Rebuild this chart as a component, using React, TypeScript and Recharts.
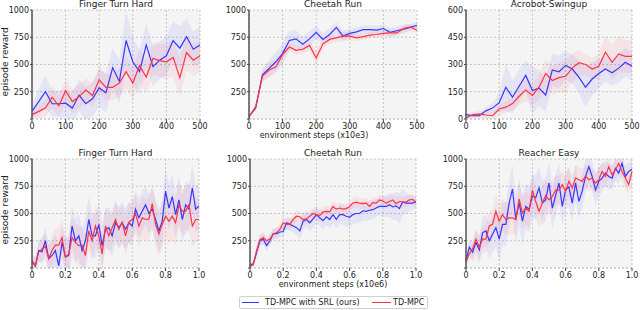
import { ComposedChart, Line, Area, XAxis, YAxis, CartesianGrid } from "recharts";

// x positions
const stepsK = [0, 20, 40, 60, 80, 100, 120, 140, 160, 180, 200, 220, 240, 260, 280, 300, 320, 340, 360, 380, 400, 420, 440, 460, 480, 500];
const stepsM = [
  0, 0.02, 0.04, 0.06, 0.08, 0.1, 0.12, 0.14, 0.16, 0.18,
  0.2, 0.22, 0.24, 0.26, 0.28, 0.3, 0.32, 0.34, 0.36, 0.38,
  0.4, 0.42, 0.44, 0.46, 0.48, 0.5, 0.52, 0.54, 0.56, 0.58,
  0.6, 0.62, 0.64, 0.66, 0.68, 0.7, 0.72, 0.74, 0.76, 0.78,
  0.8, 0.82, 0.84, 0.86, 0.88, 0.9, 0.92, 0.94, 0.96, 0.98,
  1.0,
];

const ticksK = [0, 100, 200, 300, 400, 500];
const ticksM = [0, 0.2, 0.4, 0.6, 0.8, 1.0];
const ticksReward = [0, 250, 500, 750, 1000];
const ticksAcrobot = [0, 150, 300, 450, 600];

// top row: Finger Turn Hard
const fingerA_srl = [70, 160, 250, 140, 140, 145, 100, 220, 140, 185, 285, 240, 470, 345, 720, 525, 435, 680, 480, 540, 580, 720, 650, 755, 640, 680];
const fingerA_srlSd = [60, 120, 150, 120, 120, 130, 140, 150, 150, 160, 170, 180, 180, 200, 270, 220, 200, 200, 180, 170, 180, 180, 200, 170, 160, 170];
const fingerA_mpc = [40, 70, 100, 200, 120, 260, 160, 205, 265, 215, 360, 290, 290, 330, 435, 330, 490, 385, 555, 535, 525, 565, 380, 610, 540, 580];
const fingerA_mpcSd = [40, 60, 80, 100, 100, 110, 110, 110, 110, 110, 120, 120, 120, 130, 150, 150, 150, 150, 150, 150, 160, 170, 180, 160, 150, 150];

// top row: Cheetah Run
const cheetahA_srl = [25, 100, 405, 465, 525, 600, 720, 735, 685, 735, 795, 730, 775, 840, 760, 785, 800, 820, 820, 815, 830, 795, 810, 825, 840, 860];
const cheetahA_srlSd = [10, 20, 60, 80, 90, 100, 90, 80, 70, 70, 60, 60, 60, 50, 50, 40, 40, 40, 40, 40, 40, 40, 40, 40, 30, 30];
const cheetahA_mpc = [20, 115, 395, 450, 480, 590, 660, 630, 640, 675, 560, 690, 730, 745, 760, 760, 745, 755, 770, 775, 785, 790, 790, 830, 845, 815];
const cheetahA_mpcSd = [10, 20, 50, 70, 60, 50, 40, 40, 40, 50, 70, 50, 40, 40, 40, 40, 30, 30, 30, 30, 30, 30, 30, 30, 30, 30];

// top row: Acrobot-Swingup
const acrobot_srl = [24, 18, 18, 45, 60, 90, 175, 120, 180, 240, 157, 170, 132, 270, 260, 295, 275, 230, 175, 220, 250, 275, 255, 280, 312, 290];
const acrobot_srlSd = [10, 10, 10, 20, 30, 50, 130, 90, 90, 80, 130, 100, 90, 90, 90, 80, 80, 90, 110, 90, 80, 70, 70, 80, 80, 80];
const acrobot_mpc = [5, 24, 27, 22, 18, 55, 65, 85, 125, 160, 130, 175, 250, 212, 228, 235, 280, 310, 300, 275, 290, 368, 312, 358, 345, 345];
const acrobot_mpcSd = [10, 15, 20, 20, 20, 30, 30, 40, 50, 60, 60, 70, 80, 80, 80, 90, 80, 70, 60, 60, 70, 90, 100, 100, 90, 90];

// bottom row: Finger Turn Hard
const fingerB_srl = [
  55, 25, 160, 150, 250, 85, 115, 160, 20, 235,
  100, 115, 385, 250, 295, 160, 250, 445, 295, 295,
  400, 205, 355, 370, 295, 415, 370, 415, 355, 415,
  385, 540, 460, 520, 580, 500, 540, 445, 340, 430,
  705, 550, 655, 490, 625, 445, 580, 540, 735, 540,
  570,
];
const fingerB_srlSd = [
  60, 80, 100, 110, 120, 130, 140, 150, 150, 160,
  170, 180, 190, 200, 200, 200, 210, 210, 200, 200,
  200, 200, 190, 190, 190, 190, 190, 190, 190, 190,
  180, 180, 180, 180, 180, 180, 190, 190, 200, 200,
  200, 210, 210, 210, 220, 220, 220, 220, 220, 210,
  210,
];
const fingerB_mpc = [
  70, 15, 145, 175, 200, 85, 160, 210, 210, 280,
  100, 130, 280, 235, 205, 210, 115, 340, 250, 385,
  295, 130, 385, 295, 370, 445, 355, 420, 295, 420,
  445, 500, 385, 460, 445, 450, 590, 400, 310, 400,
  475, 430, 475, 415, 580, 520, 520, 580, 385, 445,
  445,
];
const fingerB_mpcSd = [
  50, 70, 90, 110, 120, 130, 140, 150, 160, 160,
  170, 170, 180, 180, 180, 180, 180, 180, 180, 180,
  180, 180, 170, 170, 170, 170, 170, 170, 180, 180,
  180, 180, 190, 190, 190, 200, 200, 200, 200, 200,
  200, 200, 210, 210, 210, 210, 210, 210, 200, 200,
  200,
];

// bottom row: Cheetah Run
const cheetahB_srl = [
  25, 40, 145, 250, 265, 205, 250, 315, 315, 330,
  335, 415, 400, 385, 370, 340, 430, 445, 415, 450,
  490, 460, 435, 470, 445, 490, 445, 490, 490, 475,
  465, 490, 500, 500, 525, 520, 530, 535, 550, 565,
  565, 565, 580, 560, 570, 545, 605, 595, 595, 595,
  610,
];
const cheetahB_srlSd = [
  20, 30, 50, 50, 50, 50, 50, 50, 50, 50,
  50, 60, 60, 60, 70, 80, 80, 80, 80, 80,
  80, 80, 80, 80, 80, 80, 80, 90, 90, 90,
  90, 90, 90, 90, 90, 90, 90, 90, 80, 80,
  90, 100, 110, 120, 130, 140, 120, 100, 80, 60,
  50,
];
const cheetahB_mpc = [
  20, 30, 160, 260, 280, 250, 265, 310, 325, 355,
  415, 400, 400, 445, 475, 470, 445, 450, 475, 500,
  490, 480, 515, 520, 515, 565, 540, 550, 540, 545,
  565, 595, 605, 595, 590, 595, 565, 600, 595, 625,
  615, 595, 610, 625, 590, 610, 605, 605, 625, 630,
  600,
];
const cheetahB_mpcSd = [
  15, 20, 40, 50, 50, 50, 50, 50, 50, 50,
  50, 50, 50, 50, 50, 50, 50, 50, 50, 50,
  50, 50, 50, 50, 50, 50, 50, 50, 50, 50,
  50, 50, 50, 50, 50, 50, 50, 50, 50, 50,
  50, 50, 50, 50, 50, 50, 50, 50, 50, 50,
  50,
];

// bottom row: Reacher Easy
const reacher_srl = [
  70, 190, 145, 235, 165, 325, 340, 250, 310, 370,
  265, 400, 400, 595, 725, 445, 600, 430, 565, 540,
  660, 645, 735, 595, 625, 780, 550, 665, 780, 565,
  715, 745, 595, 780, 610, 705, 840, 930, 840, 715,
  795, 825, 870, 840, 825, 915, 870, 960, 840, 885,
  905,
];
const reacher_srlSd = [
  50, 70, 90, 110, 130, 140, 150, 160, 170, 180,
  190, 200, 200, 210, 220, 220, 220, 220, 210, 210,
  200, 200, 200, 200, 200, 190, 190, 190, 180, 180,
  180, 180, 170, 170, 160, 160, 150, 150, 140, 140,
  130, 130, 120, 120, 110, 110, 100, 100, 100, 90,
  90,
];
const reacher_mpc = [
  55, 130, 175, 265, 190, 265, 265, 385, 400, 520,
  430, 490, 445, 460, 460, 445, 635, 505, 550, 520,
  715, 610, 520, 595, 665, 625, 655, 715, 715, 765,
  705, 795, 735, 825, 810, 795, 845, 810, 825, 780,
  810, 885, 840, 930, 855, 900, 960, 885, 825, 765,
  885,
];
const reacher_mpcSd = [
  40, 60, 80, 100, 110, 120, 130, 140, 140, 150,
  150, 150, 150, 150, 150, 150, 150, 150, 150, 150,
  150, 150, 150, 150, 140, 140, 140, 140, 130, 130,
  130, 130, 120, 120, 120, 110, 110, 110, 100, 100,
  100, 100, 100, 100, 90, 90, 90, 90, 90, 90,
  90,
];

const BLUE = "#3636ff";
const RED = "#ff3344";
const FONT = "'DejaVu Sans', sans-serif";

function buildRows(x: number[], srl: number[], srlSd: number[], mpc: number[], mpcSd: number[]) {
  return x.map((v, i) => ({
    x: v,
    srl: srl[i],
    mpc: mpc[i],
    srlBand: [srl[i] - srlSd[i], srl[i] + srlSd[i]],
    mpcBand: [mpc[i] - mpcSd[i], mpc[i] + mpcSd[i]],
  }));
}

interface PanelProps {
  title: string;
  rows: any[];
  left: number;
  right: number;
  top: number;
  bottom: number;
  xTicks: number[];
  yTicks: number[];
  showZero?: boolean;
  fmtX?: (v: number) => string;
}

function Panel({ title, rows, left, right, top, bottom, xTicks, yTicks, showZero, fmtX }: PanelProps) {
  const w = right - left;
  const h = bottom - top;
  const xMax = xTicks[xTicks.length - 1];
  const yMax = yTicks[yTicks.length - 1];
  const tick = { fontSize: 8, fill: "#222", fontFamily: FONT };
  return (
    <>
      <div
        style={{
          position: "absolute",
          left,
          top: top - 10,
          width: w,
          textAlign: "center",
          fontSize: 9,
          lineHeight: "9px",
          fontFamily: FONT,
          color: "#222",
          whiteSpace: "nowrap",
        }}
      >
        {title}
      </div>
      <div style={{ position: "absolute", left: left - 30, top: top - 6 }}>
        <ComposedChart
          width={w + 40}
          height={h + 22}
          data={rows}
          margin={{ top: 6, right: 10, left: 0, bottom: 0 }}
        >
          <CartesianGrid
            stroke="#c4c4c4"
            strokeDasharray="2 2"
            fill="#f4f4f4"
            fillOpacity={1}
          />
          <XAxis
            dataKey="x"
            type="number"
            domain={[0, xMax]}
            ticks={xTicks}
            height={16}
            tick={tick}
            tickSize={3}
            tickMargin={1}
            tickLine={{ stroke: "#444" }}
            axisLine={{ stroke: "#c4c4c4", strokeDasharray: "2 2" }}
            tickFormatter={fmtX}
            interval={0}
          />
          <YAxis
            type="number"
            domain={[0, yMax]}
            ticks={yTicks}
            width={30}
            allowDataOverflow
            tick={tick}
            tickSize={2}
            tickMargin={1}
            tickLine={{ stroke: "#444" }}
            axisLine={{ stroke: "#555", strokeWidth: 1.5 }}
            tickFormatter={(v: number) => (v === 0 && !showZero ? "" : String(v))}
            interval={0}
          />
          <Area
            type="linear"
            dataKey="srlBand"
            stroke="none"
            fill={BLUE}
            fillOpacity={0.08}
            isAnimationActive={false}
          />
          <Area
            type="linear"
            dataKey="mpcBand"
            stroke="none"
            fill={RED}
            fillOpacity={0.08}
            isAnimationActive={false}
          />
          <Line
            type="linear"
            dataKey="srl"
            stroke={BLUE}
            strokeWidth={1.2}
            dot={false}
            isAnimationActive={false}
          />
          <Line
            type="linear"
            dataKey="mpc"
            stroke={RED}
            strokeWidth={1.2}
            dot={false}
            isAnimationActive={false}
          />
        </ComposedChart>
      </div>
    </>
  );
}

const fmtM = (v: number) => (v === 0 ? "0" : v.toFixed(1));

const textStyle = {
  position: "absolute" as const,
  fontSize: 8,
  lineHeight: "8px",
  fontFamily: FONT,
  color: "#222",
  whiteSpace: "nowrap" as const,
};

export default function App() {
  return (
    <div
      style={{
        position: "absolute",
        left: 0,
        top: 0,
        width: 640,
        height: 310,
        background: "#fff",
        overflow: "hidden",
      }}
    >
      <Panel
        title="Finger Turn Hard"
        rows={buildRows(stepsK, fingerA_srl, fingerA_srlSd, fingerA_mpc, fingerA_mpcSd)}
        left={32} right={200} top={10} bottom={119}
        xTicks={ticksK} yTicks={ticksReward}
      />
      <Panel
        title="Cheetah Run"
        rows={buildRows(stepsK, cheetahA_srl, cheetahA_srlSd, cheetahA_mpc, cheetahA_mpcSd)}
        left={249} right={417} top={10} bottom={119}
        xTicks={ticksK} yTicks={ticksReward}
      />
      <Panel
        title="Acrobot-Swingup"
        rows={buildRows(stepsK, acrobot_srl, acrobot_srlSd, acrobot_mpc, acrobot_mpcSd)}
        left={466} right={632} top={10} bottom={119}
        xTicks={ticksK} yTicks={ticksAcrobot} showZero
      />
      <Panel
        title="Finger Turn Hard"
        rows={buildRows(stepsM, fingerB_srl, fingerB_srlSd, fingerB_mpc, fingerB_mpcSd)}
        left={32} right={199} top={159} bottom={268}
        xTicks={ticksM} yTicks={ticksReward} fmtX={fmtM}
      />
      <Panel
        title="Cheetah Run"
        rows={buildRows(stepsM, cheetahB_srl, cheetahB_srlSd, cheetahB_mpc, cheetahB_mpcSd)}
        left={250} right={416} top={159} bottom={268}
        xTicks={ticksM} yTicks={ticksReward} fmtX={fmtM}
      />
      <Panel
        title="Reacher Easy"
        rows={buildRows(stepsM, reacher_srl, reacher_srlSd, reacher_mpc, reacher_mpcSd)}
        left={466} right={632} top={159} bottom={268}
        xTicks={ticksM} yTicks={ticksReward} fmtX={fmtM}
      />

      {/* axis titles */}
      <div style={{ ...textStyle, fontSize: 9, lineHeight: "9px", left: 5, top: 62, transform: "translate(-50%, -50%) rotate(-90deg)" }}>
        episode reward
      </div>
      <div style={{ ...textStyle, fontSize: 9, lineHeight: "9px", left: 5, top: 210, transform: "translate(-50%, -50%) rotate(-90deg)" }}>
        episode reward
      </div>
      <div style={{ ...textStyle, left: 314, top: 136, transform: "translate(-50%, -50%)" }}>
        environment steps (x10e3)
      </div>
      <div style={{ ...textStyle, left: 333, top: 285, transform: "translate(-50%, -50%)" }}>
        environment steps (x10e6)
      </div>

      {/* legend */}
      <div
        style={{
          position: "absolute",
          left: 239,
          top: 296,
          width: 187,
          height: 11,
          border: "1px solid #d0d0d0",
          borderRadius: 2,
          background: "#fff",
        }}
      >
        <div style={{ position: "absolute", left: 2, top: 5, width: 17, height: 1.2, background: BLUE }} />
        <div style={{ ...textStyle, left: 25, top: 2 }}>TD-MPC with SRL (ours)</div>
        <div style={{ position: "absolute", left: 132, top: 5, width: 19, height: 1.2, background: RED }} />
        <div style={{ ...textStyle, left: 153, top: 2 }}>TD-MPC</div>
      </div>
    </div>
  );
}
